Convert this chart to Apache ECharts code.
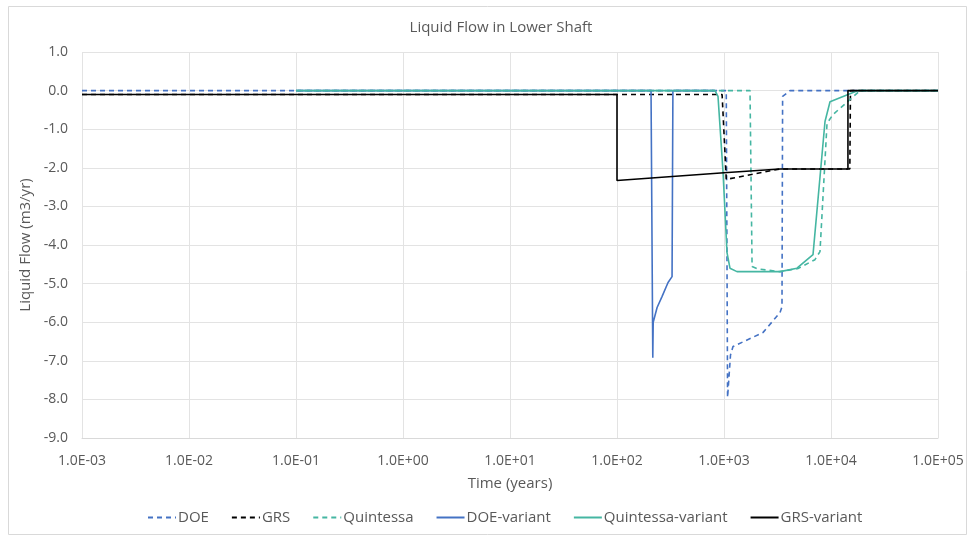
<!DOCTYPE html>
<html>
<head>
<meta charset="utf-8">
<script src="https://cdn.jsdelivr.net/npm/echarts@6/dist/echarts.min.js"></script>
<style>
html,body{margin:0;padding:0;background:#fff;}
#chart{width:972px;height:540px;}
</style>
</head>
<body>
<div id="chart"></div>
<script>
// ---- data (time in years, flow in m3/yr) ----
const seriesNames = ['DOE', 'GRS', 'Quintessa', 'DOE-variant', 'Quintessa-variant', 'GRS-variant'];

const doeT = [0.001, 1050, 1080, 1150, 1214, 2310, 3337, 3483, 3530, 4140, 100000];
const doeQ = [0, 0, -7.95, -6.85, -6.63, -6.27, -5.75, -5.6, -0.15, 0, 0];

const grsT = [0.001, 100, 960, 1050, 3337, 15000, 15200, 100000];
const grsQ = [-0.1, -0.1, -0.1, -2.3, -2.03, -2.03, 0, 0];

const quinT = [0.1, 1750, 1830, 2080, 3337, 4920, 7080, 7890, 9180, 10440, 18700, 100000];
const quinQ = [0, 0, -4.56, -4.62, -4.69, -4.61, -4.38, -4.17, -0.85, -0.62, 0, 0];

const doeVarT = [0.1, 208, 216, 218, 237, 264, 300, 327, 333, 800];
const doeVarQ = [0, 0, -6.92, -6.0, -5.62, -5.33, -4.97, -4.82, 0, 0];

const quinVarT = [0.1, 824, 879, 979, 1067, 1137, 1322, 3337, 4810, 6790, 8790, 9790, 17900, 100000];
const quinVarQ = [0, 0, -0.15, -2.1, -4.2, -4.6, -4.69, -4.69, -4.6, -4.25, -0.8, -0.29, 0, 0];

const grsVarT = [0.001, 100, 100, 1000, 3337, 14400, 14400, 100000];
const grsVarQ = [-0.1, -0.1, -2.33, -2.13, -2.03, -2.03, 0, 0];

const xTickLabels = ['1.0E-03', '1.0E-02', '1.0E-01', '1.0E+00', '1.0E+01', '1.0E+02', '1.0E+03', '1.0E+04', '1.0E+05'];
const yTickLabels = ['-9.0', '-8.0', '-7.0', '-6.0', '-5.0', '-4.0', '-3.0', '-2.0', '-1.0', '0.0', '1.0'];

// ---- build ----
const zip = (t, q) => t.map((v, i) => [v, q[i]]);
const BLUE = '#4472C4', TEAL = '#45B6A2', BLACK = '#000000';
const FONT = 'Open Sans';
const TXT = '#595959';

function line(name, t, q, color, dashed) {
  return {
    name: name, type: 'line', data: zip(t, q), symbol: 'none', smooth: false,
    lineStyle: { color: color, width: 1.6, type: dashed ? [5, 4] : 'solid' },
    itemStyle: { color: color },
    emphasis: { disabled: true }, animation: false
  };
}

const chart = echarts.init(document.getElementById('chart'), null, { renderer: 'canvas' });
chart.setOption({
  animation: false,
  backgroundColor: '#fff',
  title: {
    text: 'Liquid Flow in Lower Shaft', left: 496, top: 15, textAlign: 'center',
    textStyle: { fontFamily: FONT, fontSize: 15, fontWeight: 'normal', color: TXT }
  },
  graphic: [{ type: 'rect', shape: { x: 8.5, y: 6.5, width: 958, height: 528 }, style: { fill: 'none', stroke: '#d9d9d9', lineWidth: 1 }, silent: true }],
  grid: { left: 82, right: 34, top: 52, bottom: 102 },
  legend: {
    bottom: 10, left: 142, itemWidth: 28, itemHeight: 12, itemGap: 22,
    data: seriesNames,
    itemStyle: { opacity: 0 },
    textStyle: { fontFamily: FONT, fontSize: 15, color: TXT, padding: [0, 0, 0, -3] }
  },
  xAxis: {
    type: 'log', logBase: 10, min: 0.001, max: 100000,
    name: 'Time (years)', nameLocation: 'middle', nameGap: 38,
    nameTextStyle: { fontFamily: FONT, fontSize: 15, color: TXT },
    axisLine: { show: true, onZero: false, lineStyle: { color: '#d9d9d9' } },
    axisTick: { show: false },
    axisLabel: {
      fontFamily: FONT, fontSize: 14, color: TXT, margin: 16,
      formatter: function (v) { const e = Math.round(Math.log10(v)); return xTickLabels[e + 3] || ''; }
    },
    splitLine: { show: true, lineStyle: { color: '#e3e3e3' } }
  },
  yAxis: {
    type: 'value', min: -9, max: 1, interval: 1,
    name: 'Liquid Flow (m3/yr)', nameLocation: 'middle', nameGap: 47, nameRotate: 90,
    nameTextStyle: { fontFamily: FONT, fontSize: 15, color: TXT },
    axisLine: { show: false }, axisTick: { show: false },
    axisLabel: {
      fontFamily: FONT, fontSize: 14, color: TXT, margin: 14,
      formatter: function (v) { return yTickLabels[Math.round(v) + 9]; }
    },
    splitLine: { show: true, lineStyle: { color: '#e3e3e3' } }
  },
  series: [
    line('DOE', doeT, doeQ, BLUE, true),
    line('GRS', grsT, grsQ, BLACK, true),
    line('Quintessa', quinT, quinQ, TEAL, true),
    line('DOE-variant', doeVarT, doeVarQ, BLUE, false),
    line('Quintessa-variant', quinVarT, quinVarQ, TEAL, false),
    line('GRS-variant', grsVarT, grsVarQ, BLACK, false)
  ]
});
</script>
</body>
</html>
